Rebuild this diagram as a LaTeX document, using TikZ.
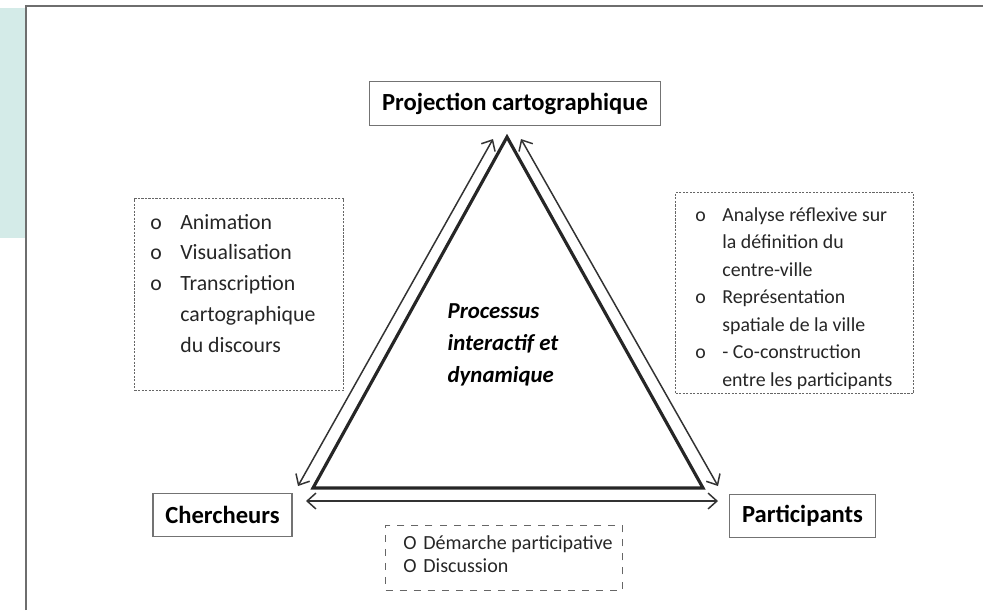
\documentclass[tikz,border=0pt]{standalone}
\usepackage{fontspec}
\setmainfont{Carlito}
\usetikzlibrary{arrows.meta}
\definecolor{tealbg}{HTML}{D4EBE8}
\definecolor{framegray}{HTML}{6E6E6E}

\begin{document}
\begin{tikzpicture}[x=0.02cm, y=-0.02cm]
	\tikzstyle{pole} = [rectangle, draw=black!55, line width=0.8pt, fill=white, inner xsep=0.25cm, minimum height=0.87cm, font=\fontsize{14}{16}\selectfont\bfseries]
	\tikzstyle{listbox} = [rectangle, draw=black!60, line width=0.6pt, dash pattern=on 1.2pt off 0.8pt, anchor=north west, inner sep=0pt]
	\tikzstyle{list} = [anchor=north west, inner sep=0pt, text=black!85]
	\tikzstyle{edge} = [line width=1.8pt, black!85, line join=miter]
	\tikzstyle{link} = [<->, >={Straight Barb[length=5pt, width=9pt]}, line width=0.85pt, black!80]

	\useasboundingbox (0,0) rectangle (983,610);
	\fill[tealbg] (0,8) rectangle (25,238);
	\draw[framegray, line width=1pt] (26,610) -- (26,6) -- (983,6);

	\node[pole] at (515,103.5) (proj) {Projection cartographique};
	\node[pole] at (222.5,515) (cherch) {Chercheurs};
	\node[pole] at (802.5,516) (partic) {Participants};

	\coordinate (top) at (507,137);
	\coordinate (bl) at (313,488);
	\coordinate (br) at (703,488);
	\draw[edge] (top) -- (bl) -- (br) -- cycle;

	\coordinate (lA) at (298,486);
	\coordinate (lB) at (493,139);
	\coordinate (rA) at (521,139);
	\coordinate (rB) at (718,486);
	\coordinate (bA) at (306,501);
	\coordinate (bB) at (718,501);
	\draw[link] (lA) -- (lB);
	\draw[link] (rA) -- (rB);
	\draw[link] (bA) -- (bB);

	\node[font=\fontsize{13}{18}\selectfont\bfseries\itshape, align=left] at (503,345) (process) {Processus\\interactif et\\dynamique};

	% boxes round the lists
	\node[listbox, minimum width=4.18cm, minimum height=3.84cm] at (134,198) (outilsbox) {};
	\node[listbox, minimum width=4.76cm, minimum height=4.02cm] at (675,192) (apportsbox) {};
	\node[listbox, dash pattern=on 4pt off 4pt, minimum width=4.74cm, minimum height=1.3cm] at (385,525) (methodebox) {};

	\node[list, font=\fontsize{12.4}{17.6}\selectfont] at (150,207) (outils) {%
		\begin{tabular}{@{}p{0.6cm}@{}l@{}}
			o & Animation\\
			o & Visualisation\\
			o & Transcription\\
			  & cartographique\\
			  & du discours
		\end{tabular}};
	\node[list, font=\fontsize{11.3}{15.6}\selectfont] at (695,202) (apports) {%
		\begin{tabular}{@{}p{0.54cm}@{}l@{}}
			o & Analyse réflexive sur\\
			  & la définition du\\
			  & centre-ville\\
			o & Représentation\\
			  & spatiale de la ville\\
			o & - Co-construction\\
			  & entre les participants
		\end{tabular}};
	\node[list, font=\fontsize{11.4}{13.6}\selectfont] at (403,532) (methode) {%
		\begin{tabular}{@{}p{0.4cm}@{}l@{}}
			O & Démarche participative\\
			O & Discussion
		\end{tabular}};
\end{tikzpicture}
\end{document}
